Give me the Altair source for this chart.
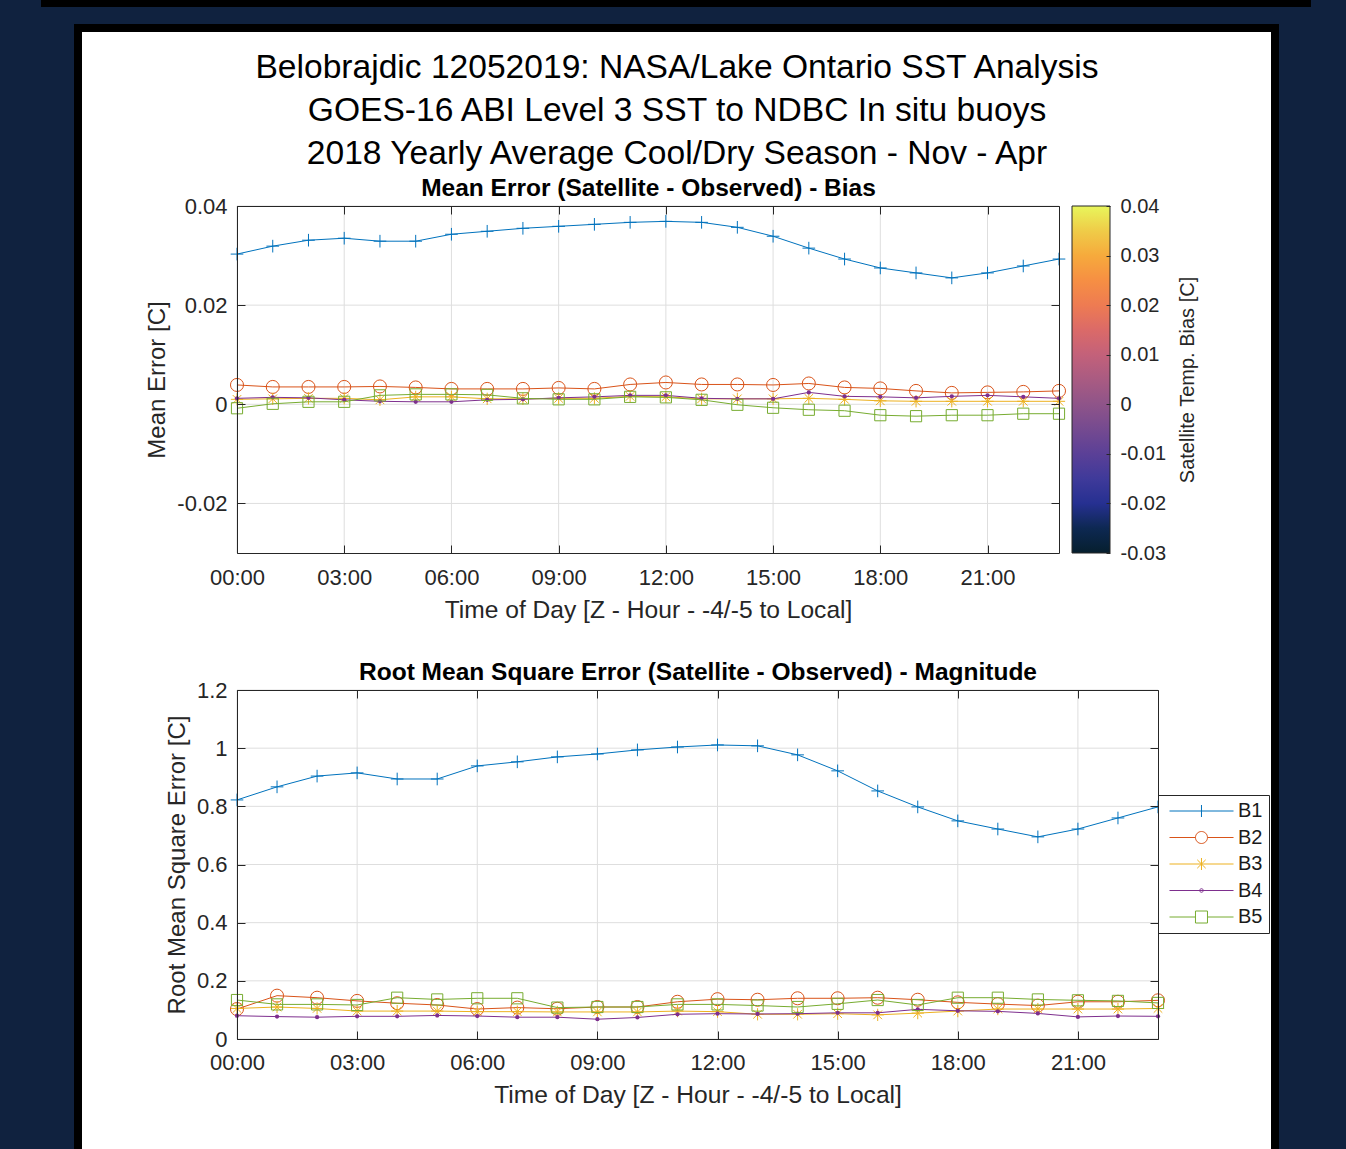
import altair as alt
import pandas as pd

# ---------------- data ----------------
HOURS = list(range(24))
SERIES = ["B1", "B2", "B3", "B4", "B5"]
COLORS = ["#0072BD", "#D95319", "#EDB120", "#7E2F8E", "#77AC30"]

ME_B1 = [0.0303, 0.0319, 0.0331, 0.0335, 0.0329, 0.0329, 0.0343, 0.0349, 0.0355, 0.0359, 0.0363, 0.0367,
         0.0369, 0.0367, 0.0357, 0.0339, 0.0315, 0.0293, 0.0275, 0.0265, 0.0255, 0.0265, 0.0279, 0.0293]
ME_B2 = [0.0039, 0.0035, 0.0035, 0.0035, 0.0036, 0.0034, 0.0031, 0.0031, 0.0031, 0.0033, 0.0031, 0.0040,
         0.0044, 0.0040, 0.0040, 0.0039, 0.0042, 0.0034, 0.0032, 0.0027, 0.0023, 0.0024, 0.0025, 0.0027]
ME_B3 = [0.0010, 0.0011, 0.0012, 0.0012, 0.0009, 0.0015, 0.0015, 0.0011, 0.0011, 0.0012, 0.0012, 0.0016,
         0.0015, 0.0011, 0.0011, 0.0011, 0.0012, 0.0010, 0.0007, 0.0006, 0.0006, 0.0006, 0.0006, 0.0006]
ME_B4 = [0.0012, 0.0014, 0.0013, 0.0009, 0.0006, 0.0005, 0.0005, 0.0009, 0.0010, 0.0013, 0.0015, 0.0018,
         0.0018, 0.0012, 0.0011, 0.0011, 0.0024, 0.0016, 0.0015, 0.0013, 0.0016, 0.0018, 0.0015, 0.0012]
ME_B5 = [-0.0008, 0.0001, 0.0005, 0.0005, 0.0018, 0.0020, 0.0020, 0.0019, 0.0012, 0.0010, 0.0010, 0.0015,
         0.0014, 0.0009, -0.0001, -0.0007, -0.0011, -0.0013, -0.0022, -0.0024, -0.0022, -0.0022, -0.0019, -0.0019]

RMSE_B1 = [0.822, 0.867, 0.904, 0.915, 0.894, 0.894, 0.939, 0.953, 0.970, 0.980, 0.994, 1.004,
           1.011, 1.008, 0.977, 0.922, 0.853, 0.798, 0.750, 0.722, 0.695, 0.722, 0.760, 0.798]
RMSE_B2 = [0.103, 0.149, 0.142, 0.131, 0.123, 0.117, 0.103, 0.108, 0.104, 0.110, 0.110, 0.128,
           0.137, 0.135, 0.140, 0.140, 0.142, 0.135, 0.126, 0.120, 0.115, 0.128, 0.128, 0.133]
RMSE_B3 = [0.105, 0.110, 0.105, 0.096, 0.096, 0.096, 0.094, 0.094, 0.093, 0.093, 0.093, 0.096,
           0.094, 0.085, 0.085, 0.087, 0.083, 0.089, 0.096, 0.103, 0.103, 0.103, 0.103, 0.105]
RMSE_B4 = [0.080, 0.077, 0.075, 0.078, 0.078, 0.081, 0.079, 0.075, 0.075, 0.068, 0.074, 0.085,
           0.087, 0.086, 0.087, 0.090, 0.090, 0.102, 0.097, 0.095, 0.088, 0.076, 0.079, 0.078]
RMSE_B5 = [0.134, 0.119, 0.119, 0.117, 0.142, 0.136, 0.140, 0.140, 0.108, 0.110, 0.110, 0.119,
           0.119, 0.115, 0.110, 0.121, 0.134, 0.117, 0.142, 0.142, 0.136, 0.133, 0.131, 0.124]

X_TICKS = [0, 3, 6, 9, 12, 15, 18, 21]
X_TICK_LABELS = ["00:00", "03:00", "06:00", "09:00", "12:00", "15:00", "18:00", "21:00"]
ME_TICKS = [-0.02, 0, 0.02, 0.04]
ME_TICK_LABELS = ["-0.02", "0", "0.02", "0.04"]
RMSE_TICKS = [0, 0.2, 0.4, 0.6, 0.8, 1.0, 1.2]
RMSE_TICK_LABELS = ["0", "0.2", "0.4", "0.6", "0.8", "1", "1.2"]
CB_TICKS = [-0.03, -0.02, -0.01, 0, 0.01, 0.02, 0.03, 0.04]
CB_TICK_LABELS = ["-0.03", "-0.02", "-0.01", "0", "0.01", "0.02", "0.03", "0.04"]

X_DOMAIN = [0, 23]
ME_DOMAIN = [-0.03, 0.04]
RMSE_DOMAIN = [0, 1.2]

TITLE_LINES = ["Belobrajdic 12052019: NASA/Lake Ontario SST Analysis",
               "GOES-16 ABI Level 3 SST to NDBC In situ buoys",
               "2018 Yearly Average Cool/Dry Season - Nov - Apr"]
ME_TITLE = "Mean Error (Satellite - Observed) - Bias"
RMSE_TITLE = "Root Mean Square Error (Satellite - Observed) - Magnitude"
X_TITLE = "Time of Day [Z - Hour - -4/-5 to Local]"
ME_YTITLE = "Mean Error [C]"
RMSE_YTITLE = "Root Mean Square Error [C]"
CB_TITLE = "Satellite Temp. Bias [C]"

CB_STOPS = [(0.0, "#061f2e"), (0.071, "#0d2852"), (0.143, "#263091"), (0.214, "#3f3a9a"),
            (0.286, "#5b4097"), (0.357, "#754a90"), (0.429, "#8f5489"), (0.5, "#a95b82"),
            (0.571, "#c3617a"), (0.643, "#db6a68"), (0.714, "#ee7b52"), (0.786, "#f68f43"),
            (0.857, "#f6aa3c"), (0.929, "#efcc48"), (1.0, "#e8f65b")]

# ---------------- layout / style ----------------
W, H = 1346, 1149
FONT = "Liberation Sans"
DARK = "#262626"
GRID = "#dedede"
NAVY = "#10223f"

TOP = dict(x0=237, x1=1059, y0=206, y1=553)
BOT = dict(x0=237, x1=1158, y0=690, y1=1039)

PLUS = "M-1,0L1,0M0,-1L0,1"
STAR = "M-1,0L1,0M0,-1L0,1M-0.7,-0.7L0.7,0.7M-0.7,0.7L0.7,-0.7"
MARKERS = [
    dict(shape=PLUS, size=160, filled=False),
    dict(shape="circle", size=170, filled=False),
    dict(shape=STAR, size=150, filled=False),
    dict(shape="circle", size=18, filled=True),
    dict(shape="square", size=125, filled=False),
]
LEG_PATHS = [
    "M-0.75,0L9.92,0M4.58,-1L4.58,1",
    "M-0.75,0L3.58,0M5.58,0L9.92,0M3.58,0A1,1 0 1,0 5.58,0A1,1 0 1,0 3.58,0",
    "M-0.75,0L9.92,0M4.58,-1L4.58,1M3.88,-0.7L5.28,0.7M3.88,0.7L5.28,-0.7",
    "M-0.75,0L9.92,0M4.58,-0.3A0.3,0.3 0 1,0 4.58,0.3A0.3,0.3 0 1,0 4.58,-0.3",
    "M-0.75,0L3.58,0M5.58,0L9.92,0M3.58,-1L5.58,-1L5.58,1L3.58,1Z",
]


def label_expr(vals, labels):
    expr = "''"
    for v, l in reversed(list(zip(vals, labels))):
        expr = f"(abs(datum.value - ({v!r})) < 1e-9 ? '{l}' : {expr})"
    return expr


def ax(**kw):
    base = dict(labelFont=FONT, titleFont=FONT, domainColor=DARK, tickColor=DARK,
                labelColor=DARK, titleColor=DARK, grid=False, zindex=1,
                domainWidth=1, tickWidth=1, labelFlush=False, labelOverlap=False,
                title=None)
    base.update(kw)
    return alt.Axis(**base)


def long_df(arrs):
    rows = []
    for s, arr in zip(SERIES, arrs):
        for h, v in zip(HOURS, arr):
            rows.append({"hour": h, "series": s, "value": v})
    return pd.DataFrame(rows)


me_df = long_df([ME_B1, ME_B2, ME_B3, ME_B4, ME_B5])
rmse_df = long_df([RMSE_B1, RMSE_B2, RMSE_B3, RMSE_B4, RMSE_B5])
one = pd.DataFrame({"k": [0]})


def panel_axes(P, ticks_y, labels_y, ytitle, title, lab_pad_x, title_x_y, ytitle_x):
    xs = dict(values=X_TICKS)
    x_lab = ax(orient="bottom", offset=P["y1"] - H, ticks=False, domain=False, tickSize=0,
               labelPadding=lab_pad_x, labelFontSize=22, labelExpr=label_expr(X_TICKS, X_TICK_LABELS),
               title=X_TITLE, titleFontSize=24.6, titleFontWeight="normal", titleY=title_x_y,
               titleBaseline="alphabetic", **xs)
    x_in_b = ax(orient="top", offset=-P["y1"], labels=False, tickSize=8, **xs)
    x_in_t = ax(orient="bottom", offset=P["y0"] - H, labels=False, tickSize=8, **xs)
    x_title = ax(orient="top", offset=-P["y0"], labels=False, ticks=False, domain=False,
                 title=title, titleFontSize=24.5, titleFontWeight="bold", titleColor="#000000",
                 titleY=-11, titleBaseline="alphabetic", **xs)
    ys = dict(values=ticks_y)
    y_lab = ax(orient="left", offset=-P["x0"], ticks=False, domain=False, tickSize=0,
               labelPadding=10, labelFontSize=22, labelExpr=label_expr(ticks_y, labels_y),
               title=ytitle, titleFontSize=24, titleFontWeight="normal", titleAngle=270,
               titleX=ytitle_x, titleBaseline="alphabetic", **ys)
    y_in_l = ax(orient="right", offset=P["x0"] - W, labels=False, tickSize=8, **ys)
    y_in_r = ax(orient="left", offset=-P["x1"], labels=False, tickSize=8, **ys)
    return [x_lab, x_in_b, x_in_t, x_title], [y_lab, y_in_l, y_in_r]


def plot_layers(df, P, ydomain, xaxes, yaxes, yticks):
    xsc = alt.Scale(domain=X_DOMAIN, range=[P["x0"], P["x1"]], nice=False, zero=False)
    ysc = alt.Scale(domain=ydomain, range=[P["y1"], P["y0"]], nice=False, zero=False)
    layers = []
    # grid
    layers.append(alt.Chart(pd.DataFrame({"h": X_TICKS})).mark_rule(color=GRID, strokeWidth=1).encode(
        x=alt.X("h:Q", scale=xsc, axis=None),
        y=alt.YDatum(ydomain[0], scale=ysc, axis=None), y2=alt.Y2Datum(ydomain[1])))
    layers.append(alt.Chart(pd.DataFrame({"v": yticks})).mark_rule(color=GRID, strokeWidth=1).encode(
        y=alt.Y("v:Q", scale=ysc, axis=None),
        x=alt.XDatum(X_DOMAIN[0], scale=xsc, axis=None), x2=alt.X2Datum(X_DOMAIN[1])))
    for i, s in enumerate(SERIES):
        xa = xaxes[i] if i < len(xaxes) else None
        ya = yaxes[i] if i < len(yaxes) else None
        base = alt.Chart(df).transform_filter(alt.datum.series == s)
        layers.append(base.mark_line(color=COLORS[i], strokeWidth=1).encode(
            x=alt.X("hour:Q", scale=xsc, axis=xa),
            y=alt.Y("value:Q", scale=ysc, axis=ya)))
        m = MARKERS[i]
        layers.append(base.mark_point(shape=m["shape"], size=m["size"], filled=m["filled"],
                                      color=COLORS[i], strokeWidth=1, opacity=1).encode(
            x=alt.X("hour:Q", scale=xsc, axis=None),
            y=alt.Y("value:Q", scale=ysc, axis=None)))
    return layers, ysc


# decorations: page frame and white panel
deco = [
    alt.Chart(one).mark_rect(fill="#000000").encode(
        x=alt.value(41), x2=alt.value(1311), y=alt.value(0), y2=alt.value(7)),
    alt.Chart(one).mark_rect(fill="#000000").encode(
        x=alt.value(74), x2=alt.value(1279), y=alt.value(24), y2=alt.value(1160)),
    alt.Chart(one).mark_rect(fill="#ffffff").encode(
        x=alt.value(82), x2=alt.value(1271), y=alt.value(32), y2=alt.value(1160)),
]

top_x, top_y = panel_axes(TOP, ME_TICKS, ME_TICK_LABELS, ME_YTITLE, ME_TITLE, 14, 64, -73)
cb_ticks_axis = ax(orient="left", offset=-1110, labels=False, domain=False, tickSize=4, values=CB_TICKS)
top_layers, top_ysc = plot_layers(me_df, TOP, ME_DOMAIN, top_x, top_y + [cb_ticks_axis], ME_TICKS)

bot_x, bot_y = panel_axes(BOT, RMSE_TICKS, RMSE_TICK_LABELS, RMSE_YTITLE, RMSE_TITLE, 13, 63, -53)
bot_layers, _ = plot_layers(rmse_df, BOT, RMSE_DOMAIN, bot_x, bot_y, RMSE_TICKS)

# colorbar
grad = alt.LinearGradient(gradient="linear", x1=0, x2=0, y1=1, y2=0,
                          stops=[alt.GradientStop(color=c, offset=o) for o, c in CB_STOPS])
cb_axis = ax(orient="right", offset=1110 - W, ticks=False, domain=False, tickSize=0,
             labelPadding=10, labelFontSize=20, values=CB_TICKS,
             labelExpr=label_expr(CB_TICKS, CB_TICK_LABELS),
             title=CB_TITLE, titleFontSize=20, titleFontWeight="normal", titleAngle=270,
             titleX=83, titleBaseline="alphabetic")
colorbar = alt.Chart(one).mark_rect(fill=grad, stroke=DARK, strokeWidth=1).encode(
    x=alt.value(1072), x2=alt.value(1110),
    y=alt.YDatum(ME_DOMAIN[0], scale=alt.Scale(domain=ME_DOMAIN, range=[TOP["y1"], TOP["y0"]],
                                               nice=False, zero=False), axis=cb_axis),
    y2=alt.Y2Datum(ME_DOMAIN[1]))

# legend (drawn by the library from the series scale)
LEG = alt.Legend(orient="none", legendX=1158, legendY=795, title=None, padding=6,
                 symbolSize=144, symbolStrokeWidth=1, symbolOpacity=1,
                 labelFontSize=20, labelFont=FONT, labelColor="#1a1a1a", labelOffset=54,
                 rowPadding=6.5, strokeColor=DARK, fillColor="#ffffff")
legend_layer = alt.Chart(rmse_df).transform_filter("false").mark_point(
    filled=False, strokeWidth=1, opacity=1).encode(
    color=alt.Color("series:N", scale=alt.Scale(domain=SERIES, range=COLORS), legend=LEG),
    shape=alt.Shape("series:N", scale=alt.Scale(domain=SERIES, range=LEG_PATHS), legend=LEG))

chart = alt.layer(*deco, *top_layers, colorbar, *bot_layers, legend_layer).resolve_scale(
    x="independent", y="independent").resolve_axis(x="independent", y="independent").properties(
    width=W, height=H, autosize=alt.AutoSizeParams(type="none"), padding=0, background=NAVY,
    title=alt.TitleParams(TITLE_LINES, anchor="middle", frame="group", orient="top", offset=-171,
                          baseline="top", fontSize=33.6, font=FONT, fontWeight="normal",
                          color="#000000", lineHeight=43, dx=4)
).configure_view(strokeWidth=0)

chart.save("out.html", embed_options={"renderer": "svg", "actions": False})
